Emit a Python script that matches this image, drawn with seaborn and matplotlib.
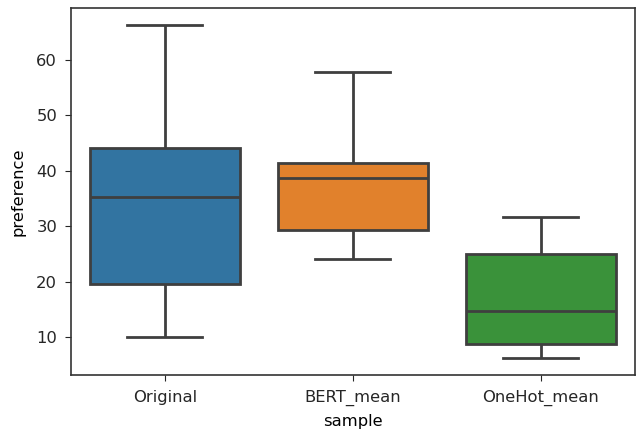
import matplotlib
matplotlib.use("Agg")
import matplotlib.pyplot as plt
import seaborn as sns
import pandas as pd

categories = ["Original", "BERT_mean", "OneHot_mean"]
original = [10.0, 19.55, 35.3, 44.1, 66.25]
bert_mean = [24.1, 29.3, 38.7, 41.3, 57.8]
onehot_mean = [6.2, 8.7, 14.7, 24.9, 31.6]

rows = []
for cat, vals in zip(categories, [original, bert_mean, onehot_mean]):
    for v in vals:
        rows.append({"sample": cat, "preference": v})
df = pd.DataFrame(rows)

plt.rcParams["font.size"] = 11.8
plt.rcParams["axes.linewidth"] = 1.2
plt.rcParams["axes.edgecolor"] = "#333333"
plt.rcParams["xtick.major.size"] = 4.3
plt.rcParams["ytick.major.size"] = 4.3
plt.rcParams["xtick.major.pad"] = 6.5
plt.rcParams["ytick.major.pad"] = 5.5
plt.rcParams["text.color"] = "#262626"
plt.rcParams["xtick.color"] = "#262626"
plt.rcParams["ytick.color"] = "#262626"

fig = plt.figure(figsize=(6.38, 4.30), dpi=100)
ax = fig.add_axes([0.111, 0.128, 0.884, 0.853])
sns.boxplot(data=df, x="sample", y="preference", hue="sample", order=categories,
            palette=sns.color_palette()[:3], saturation=0.75, linecolor="#3f3f3f",
            linewidth=2.0, width=0.8, legend=False, ax=ax)
ax.set_xlabel("sample", labelpad=6)
ax.set_ylabel("preference", labelpad=8)
fig.savefig("out.png", dpi=100)
